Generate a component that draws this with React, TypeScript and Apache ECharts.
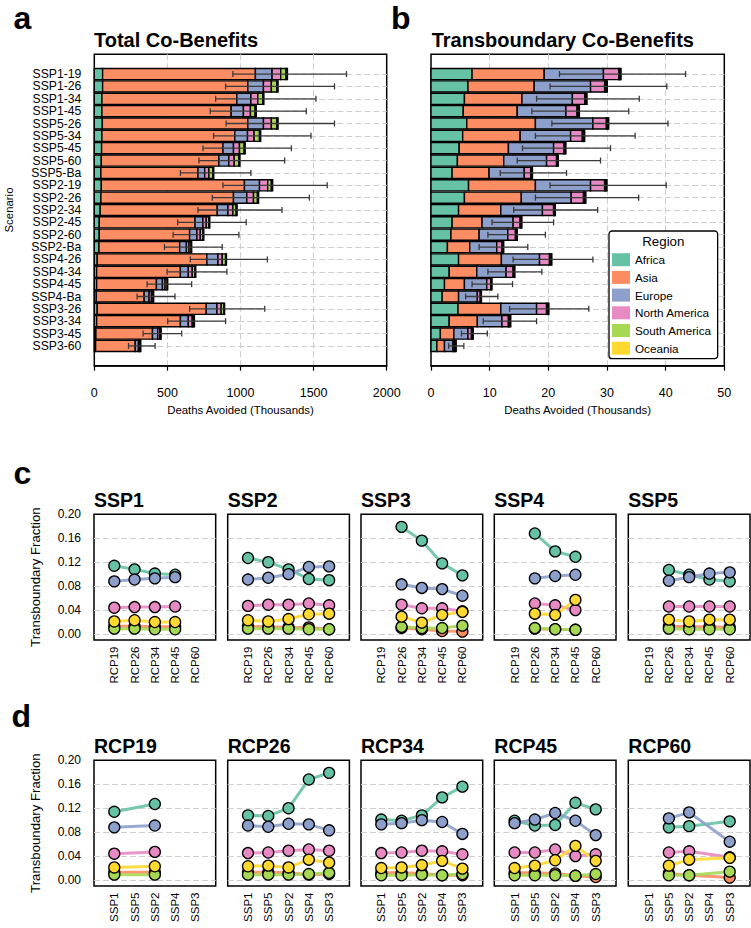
import React, { useEffect, useRef } from 'react';
import * as echarts from 'echarts';

// ---------- data ----------
const scenarios = [
  'SSP1-19', 'SSP1-26', 'SSP1-34', 'SSP1-45',
  'SSP5-26', 'SSP5-34', 'SSP5-45', 'SSP5-60', 'SSP5-Ba',
  'SSP2-19', 'SSP2-26', 'SSP2-34', 'SSP2-45', 'SSP2-60', 'SSP2-Ba',
  'SSP4-26', 'SSP4-34', 'SSP4-45', 'SSP4-Ba',
  'SSP3-26', 'SSP3-34', 'SSP3-45', 'SSP3-60',
];
const regions = ['Africa', 'Asia', 'Europe', 'North America', 'South America', 'Oceania'];
const regionColors = ['#66c2a5', '#fc8d62', '#8da0cb', '#e78ac3', '#a6d854', '#ffd92f'];

// Panel a: total co-benefits (thousand deaths avoided)
const totalAfrica = [57, 57, 52, 52, 55, 52, 50, 48, 45, 48, 45, 40, 34, 34, 32, 20, 16, 16, 14, 20, 16, 11, 9];
const totalAsia = [1045, 993, 923, 884, 995, 909, 830, 804, 664, 979, 907, 801, 655, 618, 552, 750, 573, 409, 327, 746, 573, 387, 271];
const totalEurope = [114, 107, 96, 84, 107, 87, 72, 68, 46, 103, 91, 73, 54, 50, 46, 76, 54, 41, 34, 73, 54, 36, 22];
const totalNorthAmerica = [59, 54, 47, 48, 54, 45, 41, 37, 29, 56, 46, 34, 23, 23, 18, 29, 27, 18, 16, 29, 27, 14, 9];
const totalSouthAmerica = [36, 37, 34, 32, 37, 37, 32, 32, 27, 25, 27, 22, 18, 18, 13, 23, 19, 14, 11, 18, 10, 5, 4];
const totalOceania = [10, 9, 8, 8, 9, 8, 7, 7, 6, 9, 8, 7, 6, 6, 5, 6, 5, 4, 4, 5, 5, 4, 3];
const totalErrLow = [948, 898, 830, 793, 902, 816, 743, 716, 589, 880, 807, 709, 570, 539, 480, 657, 498, 361, 293, 652, 502, 334, 234];
const totalErrHigh = [1725, 1643, 1516, 1450, 1643, 1482, 1348, 1302, 1071, 1593, 1471, 1284, 1039, 989, 875, 1184, 907, 666, 552, 1166, 898, 598, 416];

// Panel b: transboundary co-benefits
const transAfrica = [7.0, 6.3, 5.7, 5.5, 6.1, 5.4, 4.8, 4.5, 3.6, 6.4, 5.7, 4.7, 3.6, 3.4, 2.8, 4.7, 3.1, 2.3, 1.9, 4.6, 3.1, 1.6, 1.0];
const transAsia = [12.3, 11.3, 9.8, 9.2, 11.7, 9.8, 8.4, 7.9, 6.3, 11.4, 9.7, 7.2, 5.1, 4.8, 3.8, 7.3, 4.7, 3.4, 2.8, 7.3, 4.8, 2.3, 1.3];
const transEurope = [10.1, 9.6, 8.6, 8.3, 9.8, 8.6, 7.7, 7.3, 6.0, 9.4, 8.5, 7.1, 5.3, 4.9, 4.6, 6.5, 5.0, 3.8, 3.2, 6.1, 4.2, 2.4, 1.45];
const transNorthAmerica = [2.6, 2.4, 2.1, 1.9, 2.3, 2.0, 1.8, 1.7, 1.1, 2.4, 2.1, 1.9, 1.2, 1.3, 0.9, 1.7, 1.2, 0.7, 0.5, 1.7, 1.1, 0.6, 0.25];
const transSouthAmerica = [0.2, 0.25, 0.2, 0.2, 0.2, 0.2, 0.15, 0.15, 0.15, 0.2, 0.2, 0.15, 0.15, 0.15, 0.15, 0.2, 0.15, 0.1, 0.1, 0.2, 0.2, 0.15, 0.15];
const transOceania = [0.2, 0.2, 0.2, 0.2, 0.2, 0.2, 0.15, 0.15, 0.15, 0.2, 0.2, 0.15, 0.15, 0.15, 0.15, 0.2, 0.15, 0.1, 0.1, 0.2, 0.2, 0.15, 0.15];
const transErrLow = [21.9, 20.3, 18.0, 17.2, 20.6, 17.8, 15.6, 14.7, 11.8, 20.3, 17.8, 14.1, 10.4, 9.7, 8.2, 14.0, 9.7, 7.0, 5.9, 13.4, 8.9, 5.2, 3.0];
const transErrHigh = [43.4, 40.2, 35.5, 33.7, 40.4, 34.8, 30.6, 28.9, 23.1, 40.1, 35.4, 28.4, 20.9, 19.5, 16.5, 27.6, 18.9, 13.9, 11.4, 26.9, 18.0, 9.6, 5.6];

// Panels c/d: transboundary fraction, rows = SSP1..SSP5, cols = RCP19..RCP60
const ssps = ['SSP1', 'SSP2', 'SSP3', 'SSP4', 'SSP5'];
const rcps = ['RCP19', 'RCP26', 'RCP34', 'RCP45', 'RCP60'];
const sspOrderD = ['SSP1', 'SSP5', 'SSP2', 'SSP4', 'SSP3'];
const fracTicks = [0, 0.04, 0.08, 0.12, 0.16, 0.2];

const fracAfrica = [
  [0.114, 0.108, 0.101, 0.099, null],
  [0.127, 0.120, 0.108, 0.092, 0.090],
  [null, 0.179, 0.156, 0.118, 0.098],
  [null, 0.168, 0.138, 0.129, null],
  [null, 0.107, 0.099, 0.091, 0.088],
];
const fracAsia = [
  [0.013, 0.013, 0.012, 0.012, null],
  [0.013, 0.012, 0.011, 0.011, 0.008],
  [null, 0.010, 0.008, 0.005, 0.004],
  [null, 0.009, 0.008, 0.007, null],
  [null, 0.013, 0.012, 0.012, 0.011],
];
const fracEurope = [
  [0.088, 0.091, 0.093, 0.095, null],
  [0.091, 0.094, 0.100, 0.112, 0.113],
  [null, 0.083, 0.077, 0.075, 0.064],
  [null, 0.093, 0.097, 0.099, null],
  [null, 0.089, 0.095, 0.101, 0.103],
];
const fracNorthAmerica = [
  [0.044, 0.045, 0.045, 0.046, null],
  [0.047, 0.049, 0.049, 0.051, 0.048],
  [null, 0.049, 0.043, 0.043, 0.038],
  [null, 0.051, 0.048, 0.040, null],
  [null, 0.046, 0.046, 0.046, 0.046],
];
const fracSouthAmerica = [
  [0.009, 0.009, 0.008, 0.008, null],
  [0.009, 0.009, 0.009, 0.008, 0.008],
  [null, 0.012, 0.010, 0.010, 0.014],
  [null, 0.010, 0.008, 0.007, null],
  [null, 0.009, 0.008, 0.008, 0.008],
];
const fracOceania = [
  [0.021, 0.023, 0.020, 0.020, null],
  [0.023, 0.021, 0.025, 0.033, 0.034],
  [null, 0.029, 0.019, 0.032, 0.037],
  [null, 0.034, 0.032, 0.057, null],
  [null, 0.024, 0.021, 0.024, 0.024],
];

// ---------- option building ----------
const FONT = '"Liberation Sans", Arial, Helvetica, sans-serif';
const GRID_LINE = { color: '#cfcfcf', type: [6, 3], width: 1.1 };

const totalArrays = [totalAfrica, totalAsia, totalEurope, totalNorthAmerica, totalSouthAmerica, totalOceania];
const transArrays = [transAfrica, transAsia, transEurope, transNorthAmerica, transSouthAmerica, transOceania];
const fracArrays = [fracAfrica, fracAsia, fracEurope, fracNorthAmerica, fracSouthAmerica, fracOceania];

function stackedBars(arrays: number[][], gi: number) {
  const acc = scenarios.map(() => 0);
  return regions.map((r, k) => {
    const color = regionColors[k];
    const data = scenarios.map((_, i) => {
      const s = acc[i];
      acc[i] += arrays[k][i];
      return [s, acc[i], i];
    });
    return {
      type: 'custom',
      name: r,
      xAxisIndex: gi,
      yAxisIndex: gi,
      itemStyle: { color },
      encode: { x: [0, 1], y: 2 },
      data,
      silent: true,
      z: 2,
      renderItem: (params: any, api: any) => {
        const y = api.value(2);
        const p0 = api.coord([api.value(0), y]);
        const p1 = api.coord([api.value(1), y]);
        const h = api.size([0, 0.9])[1];
        return {
          type: 'rect',
          shape: { x: p0[0], y: p0[1] - h / 2, width: p1[0] - p0[0], height: h },
          style: { fill: color, stroke: '#000', lineWidth: 1.4 },
        };
      },
    };
  });
}

function errorBars(lo: number[], hi: number[], gi: number) {
  return {
    type: 'custom',
    name: 'err',
    xAxisIndex: gi,
    yAxisIndex: gi,
    encode: { x: [0, 1], y: 2 },
    data: scenarios.map((_, i) => [lo[i], hi[i], i]),
    silent: true,
    z: 3,
    renderItem: (params: any, api: any) => {
      const y = api.value(2);
      const a = api.coord([api.value(0), y]);
      const b = api.coord([api.value(1), y]);
      const cap = 3;
      const st = { stroke: '#3a3a3a', lineWidth: 1.3 };
      return {
        type: 'group',
        children: [
          { type: 'line', shape: { x1: a[0], y1: a[1], x2: b[0], y2: b[1] }, style: st },
          { type: 'line', shape: { x1: a[0], y1: a[1] - cap, x2: a[0], y2: a[1] + cap }, style: st },
          { type: 'line', shape: { x1: b[0], y1: b[1] - cap, x2: b[0], y2: b[1] + cap }, style: st },
        ],
      };
    },
  };
}

function buildOption() {
  const grids: any[] = [];
  const xAxes: any[] = [];
  const yAxes: any[] = [];
  const series: any[] = [];
  const gridBase = { show: true, borderColor: '#000', borderWidth: 1.5, backgroundColor: 'transparent', containLabel: false };

  const barIdx = scenarios.map((_, i) => i);

  // panels a, b
  const abGrids = [
    { left: 94.3, width: 292.4, max: 2000, interval: 500 },
    { left: 431, width: 293.3, max: 50, interval: 10 },
  ];
  abGrids.forEach((g, gi) => {
    grids.push({ ...gridBase, left: g.left, top: 54.3, width: g.width, height: 311.4 });
    xAxes.push({
      gridIndex: gi, type: 'value', min: 0, max: g.max, interval: g.interval, position: 'bottom',
      axisLine: { show: true, onZero: false, lineStyle: { color: '#000', width: 1.5 } },
      axisTick: { show: true, length: 5, lineStyle: { color: '#000', width: 1.2 } },
      axisLabel: { fontSize: 12.5, color: '#000', margin: 21, fontFamily: FONT, formatter: (v: number) => String(v) },
      splitLine: { show: true, showMinLine: false, showMaxLine: false, lineStyle: GRID_LINE },
      name: 'Deaths Avoided (Thousands)', nameLocation: 'middle', nameGap: 39,
      nameTextStyle: { fontSize: 11.4, color: '#000', fontFamily: FONT },
    });
    yAxes.push({
      gridIndex: gi, type: 'value', inverse: true, min: -1.6, max: 23.6,
      axisLine: { show: false, onZero: false },
      axisTick: { show: false, customValues: barIdx },
      axisLabel: {
        show: gi === 0, customValues: barIdx, fontSize: 12.2, color: '#000', margin: 13, fontFamily: FONT,
        showMinLabel: true, showMaxLabel: true, hideOverlap: false,
        formatter: (v: number) => scenarios[Math.round(v)] ?? '',
      },
      splitLine: { show: true, lineStyle: GRID_LINE },
      name: gi === 0 ? 'Scenario' : '', nameLocation: 'middle', nameGap: 80, nameRotate: 90,
      nameTextStyle: { fontSize: 11.4, color: '#000', fontFamily: FONT },
    });
  });
  series.push(...stackedBars(totalArrays, 0), errorBars(totalErrLow, totalErrHigh, 0));
  series.push(...stackedBars(transArrays, 1), errorBars(transErrLow, transErrHigh, 1));

  // panels c, d
  const lefts = [94, 227.7, 361, 494.3, 628.3];
  const rows = [
    { top: 514.3, labels: rcps },
    { top: 760.3, labels: sspOrderD },
  ];
  rows.forEach((row, ri) => {
    lefts.forEach((left, col) => {
      const gi = grids.length;
      grids.push({ ...gridBase, left, top: row.top, width: 121.7, height: 125.7 });
      xAxes.push({
        gridIndex: gi, type: 'value', min: -1, max: 5, position: 'bottom',
        axisLine: { show: false, onZero: false },
        axisTick: { show: false, customValues: [0, 1, 2, 3, 4] },
        axisLabel: {
          customValues: [0, 1, 2, 3, 4], rotate: 90, fontSize: 11.5, color: '#000', margin: 6.5, fontFamily: FONT,
          showMinLabel: true, showMaxLabel: true,
          formatter: (v: number) => row.labels[Math.round(v)] ?? '',
        },
        splitLine: { show: false },
      });
      yAxes.push({
        gridIndex: gi, type: 'value', min: -0.01, max: 0.2,
        axisLine: { show: false, onZero: false },
        axisTick: { show: false, customValues: fracTicks.slice(0, 5) },
        axisLabel: {
          show: col === 0, customValues: fracTicks, fontSize: 12, color: '#000', margin: 13, fontFamily: FONT,
          showMinLabel: true, showMaxLabel: true,
          formatter: (v: number) => v.toFixed(2),
        },
        splitLine: { show: true, lineStyle: GRID_LINE },
        name: col === 0 ? 'Transboundary Fraction' : '', nameLocation: 'middle', nameGap: 52, nameRotate: 90,
        nameTextStyle: { fontSize: 13.2, color: '#000', fontFamily: FONT },
      });
      regions.forEach((r, k) => {
        const arr = fracArrays[k];
        let data: any[];
        if (ri === 0) {
          data = rcps.map((_, j) => (arr[col][j] == null ? null : [j, arr[col][j]])).filter(Boolean);
        } else {
          data = sspOrderD
            .map((s, p) => {
              const v = arr[ssps.indexOf(s)][col];
              return v == null ? null : [p, v];
            })
            .filter(Boolean);
        }
        series.push({
          type: 'line', name: r, xAxisIndex: gi, yAxisIndex: gi, data,
          symbol: 'circle', symbolSize: 11, showSymbol: true,
          lineStyle: { color: regionColors[k], width: 3, opacity: 0.9 },
          itemStyle: { color: regionColors[k], borderColor: '#000', borderWidth: 1.3 },
          emphasis: { disabled: true }, silent: true, z: 3,
        });
      });
    });
  });

  const txt = (text: string, x: number, y: number, fontSize: number, bold: boolean, align = 'left') => ({
    type: 'text', x, y, z: 100, silent: true,
    style: {
      text, fontSize, fontWeight: bold ? 'bold' : 'normal', fontFamily: FONT, fill: '#000',
      align, textAlign: align, verticalAlign: 'middle', textVerticalAlign: 'middle',
    },
  });

  const graphics: any[] = [
    txt('a', 13.5, 18.2, 32, true),
    txt('b', 391, 18.2, 32, true),
    txt('c', 13.5, 473, 32, true),
    txt('d', 11.5, 716.3, 32, true),
    txt('Total Co-Benefits', 94, 39.5, 20, true),
    txt('Transboundary Co-Benefits', 431.7, 39.5, 20, true),
    txt('Region', 663.3, 241, 13.3, false, 'center'),
  ];
  ssps.forEach((s, i) => graphics.push(txt(s, lefts[i], 500.3, 19.5, true)));
  rcps.forEach((s, i) => graphics.push(txt(s, lefts[i], 746.3, 19.5, true)));

  return {
    animation: false,
    backgroundColor: '#fff',
    textStyle: { fontFamily: FONT },
    grid: grids,
    xAxis: xAxes,
    yAxis: yAxes,
    legend: {
      left: 609, top: 231, orient: 'vertical',
      itemWidth: 18, itemHeight: 13, itemGap: 4.7,
      padding: [22.2, 6, 4, 3],
      borderColor: '#000', borderWidth: 1.3, borderRadius: 3, backgroundColor: '#fff',
      icon: 'rect', selectedMode: false,
      itemStyle: { borderWidth: 0 },
      textStyle: { fontSize: 11.7, color: '#000', fontFamily: FONT },
      data: regions.map((r, i) => ({ name: r, itemStyle: { color: regionColors[i], borderWidth: 0 } })),
      z: 50,
    },
    graphic: graphics,
    series,
  };
}

export default function App() {
  const ref = useRef<HTMLDivElement>(null);
  useEffect(() => {
    document.body.style.margin = '0';
    const chart = echarts.init(ref.current!, null, { renderer: 'svg' });
    chart.setOption(buildOption() as any);
    return () => chart.dispose();
  }, []);
  return <div ref={ref} style={{ position: 'absolute', left: 0, top: 0, width: 751, height: 928 }} />;
}
